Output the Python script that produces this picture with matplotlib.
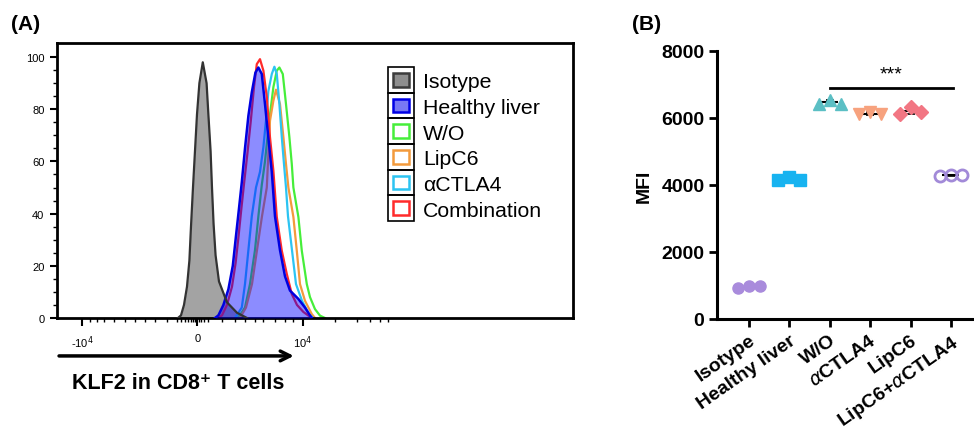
import numpy as np
import matplotlib
matplotlib.use('Agg')
import matplotlib.pyplot as plt
from matplotlib.patches import Rectangle

plt.rcParams['font.family'] = ['Liberation Sans', 'DejaVu Sans']

# --- Panel A: KLF2 histograms (x = display channel, y = % of max) ---
isotype_ch = [60.5, 62, 63.5, 65, 66.2, 67, 68, 69, 70, 71.2, 72.9,
              74.8, 75.7, 76.8, 77.5, 78.3, 79.3, 81, 85, 90, 95]
isotype_pct = [0, 1, 5, 12, 22, 35, 50, 64, 78, 90, 98,
               90, 78, 64, 50, 36, 24, 14, 6, 2, 0]

healthy_ch = [79, 80.7, 83.2, 85.7, 87.9, 89.5, 91, 92.4, 94, 95.7, 97.4, 99.2, 100.7,
              102.4, 104, 105.7, 107.4, 109, 111.5, 114, 116.5, 120.7, 124, 126.5, 127.5]
healthy_pct = [0, 1, 5, 11, 20, 31.5, 42, 52, 65, 77.5, 86.5, 94, 96,
               93.5, 82, 69, 56, 39, 26, 16, 10.5, 7.3, 4, 1, 0]

wo_ch = [90.5, 94, 96.5, 99, 100.7, 102.4, 104, 105.2, 106.5, 108.2, 109.9, 111.2,
         112.9, 114.5, 116.2, 117.4, 118.2, 120.7, 122.4, 124.9, 126.5, 129, 131.5, 134]
wo_pct = [0, 4, 13, 26, 39, 51, 60, 69, 78, 88.5, 94.8, 96,
          93.5, 82, 69.3, 59, 50, 38.7, 25.8, 13, 8, 3.4, 0.9, 0]

lipc6_ch = [91.5, 94.5, 97.5, 100, 102.5, 104.9, 105.7, 106.5, 108.2, 109.5,
            111.5, 113.2, 114.5, 115.7, 118.2, 119.9, 121.5, 124, 127.4, 129]
lipc6_pct = [0, 4, 13, 26, 39, 50, 63, 75.6, 83.3, 87.5,
             82, 69.3, 59, 50, 38.7, 25.8, 13, 6.6, 1.5, 0]

actla4_ch = [89, 92.4, 94, 95.7, 97.4, 99.5, 101.5, 103.2, 104.5, 105.7, 107.4, 108.7,
             109.9, 111.2, 112.4, 113.5, 114.5, 115.5, 117.5, 119.5, 122.5, 126, 128]
actla4_pct = [0, 4, 13, 26, 39, 50, 56, 65.5, 75.6, 87, 93.5, 96.3,
              93.5, 82, 69.3, 59, 50, 39, 26, 13, 6.6, 1.5, 0]

combo_ch = [80.5, 82.5, 85, 87.5, 89.3, 90.8, 92.2, 93.6, 95.2, 96.9, 98.5, 99.9, 101.5,
            103.2, 104.9, 106.5, 108.2, 109.9, 112.4, 114.9, 117.4, 120, 123.2, 127.4]
combo_pct = [0, 1, 5, 12, 21, 31.5, 42, 52, 63, 75.5, 88.5, 97.3, 99.2,
             94.8, 84.7, 69.3, 56.4, 38.7, 25.8, 16.9, 9.2, 5, 2.3, 0]

legend_names = ['Isotype', 'Healthy liver', 'W/O', 'LipC6', 'αCTLA4', 'Combination']

xtick_major = [12.7, 70.2, 123]
xtick_labels = ['-10$^4$', '0', '10$^4$']
xtick_minor = [16.5, 19.9, 23.7, 28.7, 34, 39, 44, 49, 54.9,
               59.9, 62, 64, 65.5, 67, 68, 69, 71, 72, 73.5, 75.5,
               82.4, 89, 94, 99, 103, 109, 114, 118,
               139, 150, 156.5, 161.5, 165.5]

# --- Panel B: MFI ---
groups = ['Isotype', 'Healthy liver', 'W/O', r'$\alpha$CTLA4', 'LipC6', r'LipC6+$\alpha$CTLA4']
mfi_isotype = [930, 990, 980]
mfi_healthy = [4150, 4230, 4160]
mfi_wo = [6420, 6540, 6430]
mfi_actla4 = [6110, 6170, 6120]
mfi_lipc6 = [6120, 6330, 6190]
mfi_combo = [4280, 4300, 4290]
sig_bar = 6900

fig = plt.figure(figsize=(9.74, 4.35), dpi=100)

# ================= Panel A =================
axA = fig.add_axes([0.0585, 0.2667, 0.5298, 0.6322])
axA.set_xlim(0, 258)
axA.set_ylim(0, 105.4)

axA.fill_between(isotype_ch, isotype_pct, color='#a3a3a3', lw=0, zorder=1)
axA.plot(wo_ch, wo_pct, color='#46ee3a', lw=1.6, zorder=2)
axA.plot(lipc6_ch, lipc6_pct, color='#f39a3c', lw=1.6, zorder=2)
axA.plot(actla4_ch, actla4_pct, color='#2cc4f2', lw=1.6, zorder=2)
axA.plot(combo_ch, combo_pct, color='#ff2b2b', lw=1.6, zorder=2)
axA.fill_between(healthy_ch, healthy_pct, color='#0000ff', alpha=0.45, lw=0, zorder=3)
axA.plot(healthy_ch, healthy_pct, color='#0000e0', lw=1.8, zorder=4)
axA.plot(isotype_ch, isotype_pct, color='#333333', lw=1.6, zorder=5)

for side in ['left', 'right', 'top', 'bottom']:
    axA.spines[side].set_linewidth(2)
axA.set_yticks(np.arange(0, 101, 20))
axA.set_yticks(np.arange(0, 101, 5), minor=True)
axA.set_xticks(xtick_major)
axA.set_xticklabels(xtick_labels)
axA.set_xticks(xtick_minor, minor=True)
axA.tick_params(which='major', direction='out', length=5, width=1.5, labelsize=8, pad=4)
axA.tick_params(which='minor', direction='out', length=3, width=1)
axA.tick_params(axis='x', which='major', length=6, pad=5)

# legend (FlowJo style boxed swatches)
legend_faces = ['#8f8f8f', '#7878f4', 'white', 'white', 'white', 'white']
legend_edges = ['#3c3c3c', '#0000e6', '#46ee3a', '#f39a3c', '#2cc4f2', '#ff2b2b']
leg_x0, leg_x1 = 0.6415, 0.692
leg_top, row_h = 0.9127, 0.0933
sw_w, sw_h = 0.031, 0.05
for i, name in enumerate(legend_names):
    y0 = leg_top - (i + 1) * row_h
    axA.add_patch(Rectangle((leg_x0, y0), leg_x1 - leg_x0, row_h, transform=axA.transAxes,
                            fill=False, ec='black', lw=1.2, zorder=6))
    axA.add_patch(Rectangle(((leg_x0 + leg_x1) / 2 - sw_w / 2, y0 + row_h / 2 - sw_h / 2),
                            sw_w, sw_h, transform=axA.transAxes,
                            fc=legend_faces[i], ec=legend_edges[i], lw=1.8, zorder=7))
    axA.text(0.709, y0 + row_h / 2, name, transform=axA.transAxes, fontsize=15.3,
             ha='left', va='center_baseline')

axA.annotate('', xy=(0.459, -0.138), xytext=(0.004, -0.138), xycoords='axes fraction',
             textcoords='axes fraction',
             arrowprops=dict(arrowstyle='->, head_length=0.7, head_width=0.35',
                             lw=2.5, color='black', shrinkA=0, shrinkB=0),
             annotation_clip=False)
axA.text(0.2345, -0.233, 'KLF2 in CD8⁺ T cells', transform=axA.transAxes,
         fontsize=15.5, fontweight='bold', ha='center', va='center')

# ================= Panel B =================
axB = fig.add_axes([0.7361, 0.2644, 0.2618, 0.6161])
axB.set_xlim(-0.79, 5.52)
axB.set_ylim(0, 8000)

jitter = np.array([-0.27, 0, 0.27])
series = [
    (mfi_isotype, dict(marker='o', ms=8, color='#a98bdc', mec='#a98bdc')),
    (mfi_healthy, dict(marker='s', ms=8.5, color='#17b3f0', mec='#17b3f0')),
    (mfi_wo, dict(marker='^', ms=8.5, color='#5bbfc4', mec='#5bbfc4')),
    (mfi_actla4, dict(marker='v', ms=8.5, color='#f7a27e', mec='#f7a27e')),
    (mfi_lipc6, dict(marker='D', ms=7.5, color='#f27683', mec='#f27683')),
    (mfi_combo, dict(marker='o', ms=8, color='none', mec='#a28ad8', mew=2)),
]
for i, (vals, style) in enumerate(series):
    mean = np.mean(vals)
    sd = np.std(vals, ddof=1)
    axB.hlines(mean, i - 0.21, i + 0.21, color='black', lw=1.5, zorder=2)
    axB.errorbar(i, mean, yerr=sd, color='black', capsize=3, lw=1.2, capthick=1.2, zorder=2)
    axB.plot(i + jitter, vals, ls='none', zorder=3, **style)

axB.plot([2, 5.05], [sig_bar, sig_bar], color='black', lw=2)
axB.text(3.53, sig_bar + 150, '***', ha='center', va='bottom', fontsize=14)

axB.spines['top'].set_visible(False)
axB.spines['right'].set_visible(False)
axB.spines['left'].set_linewidth(2.2)
axB.spines['bottom'].set_linewidth(2.2)
axB.set_yticks([0, 2000, 4000, 6000, 8000])
axB.set_yticklabels(['0', '2000', '4000', '6000', '8000'], fontsize=14, fontweight='bold')
axB.set_xticks(range(len(groups)))
axB.set_xticklabels(groups, rotation=35, ha='right', rotation_mode='anchor',
                    fontsize=14, fontweight='bold')
axB.tick_params(direction='out', length=6, width=2, pad=3)
axB.set_ylabel('MFI', fontsize=14, fontweight='bold', labelpad=6)

fig.text(26 / 974, 1 - 24 / 435, '(A)', fontsize=15, fontweight='bold', ha='center', va='center')
fig.text(647 / 974, 1 - 24 / 435, '(B)', fontsize=15, fontweight='bold', ha='center', va='center')

fig.savefig('out.png', dpi=100)
